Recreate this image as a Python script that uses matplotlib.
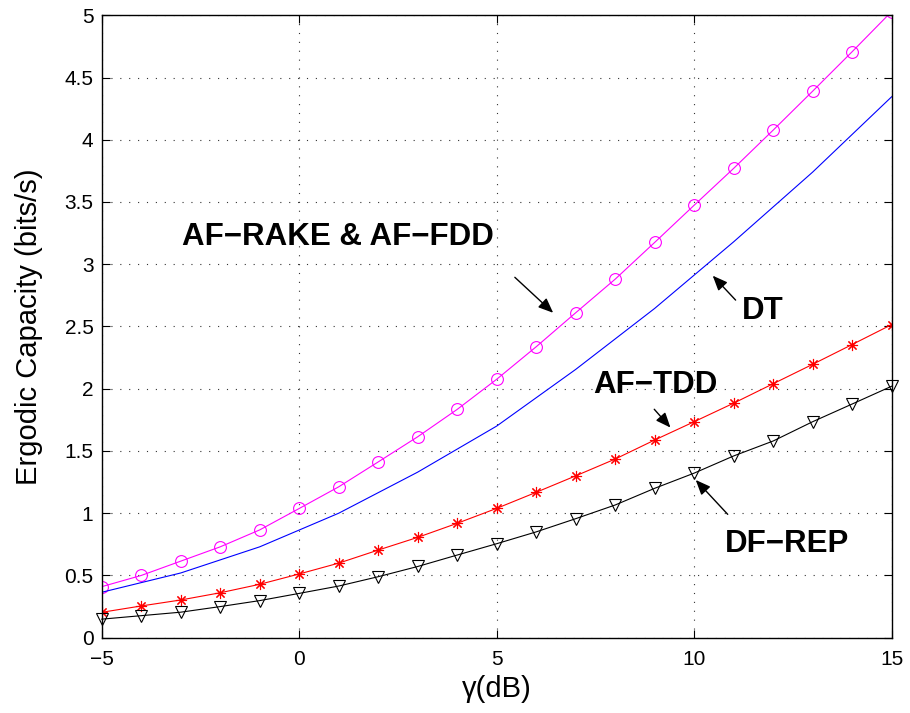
import numpy as np
import matplotlib
matplotlib.use('Agg')
import matplotlib.pyplot as plt

'''Chart data (read off the reference)'''
snr_db = np.arange(-5, 16)
af_rake = [0.41, 0.50, 0.615, 0.73, 0.866, 1.038, 1.212, 1.412, 1.614, 1.834, 2.076,
           2.337, 2.61, 2.88, 3.175, 3.474, 3.77, 4.077, 4.39, 4.707, 5.03]
af_tdd = [0.204, 0.255, 0.303, 0.361, 0.429, 0.512, 0.599, 0.704, 0.806, 0.919, 1.039,
          1.168, 1.30, 1.435, 1.588, 1.735, 1.884, 2.04, 2.196, 2.355, 2.515]
df_rep = [0.149, 0.177, 0.205, 0.25, 0.298, 0.356, 0.415, 0.49, 0.572, 0.664, 0.755,
          0.85, 0.956, 1.066, 1.20, 1.322, 1.46, 1.58, 1.735, 1.877, 2.02]

dt_db = np.arange(-5, 16, 2)
dt = [0.365, 0.52, 0.73, 1.0, 1.33, 1.70, 2.155, 2.645, 3.18, 3.74, 4.345]

xticks = [-5, 0, 5, 10, 15]
xtick_labels = ['\u22125', '0', '5', '10', '15']
yticks = np.arange(0, 5.01, 0.5)
ytick_labels = ['0', '0.5', '1', '1.5', '2', '2.5', '3', '3.5', '4', '4.5', '5']

plt.rcParams['font.family'] = ['Liberation Sans', 'DejaVu Sans']

fig = plt.figure(figsize=(9.1, 7.13), dpi=100)
ax = fig.add_axes([0.1118, 0.1056, 0.868, 0.873])

ax.plot(snr_db, af_rake, '-', color='#ff00ff', lw=0.8, marker='o', ms=8.5,
        mfc='none', mec='#ff00ff', mew=0.8)
ax.plot(dt_db, dt, '-', color='#0000ff', lw=0.8)
ax.plot(snr_db, af_tdd, '-', color='#ff0000', lw=0.8, marker=(8, 2, 0), ms=8,
        mec='#ff0000', mew=0.8)
ax.plot(snr_db, df_rep, '-', color='black', lw=0.8, marker='v', ms=8.5,
        mfc='none', mec='black', mew=0.8, clip_on=False)

ax.set_xlim(-5, 15)
ax.set_ylim(0, 5)
ax.set_xticks(xticks)
ax.set_xticklabels(xtick_labels)
ax.set_yticks(yticks)
ax.set_yticklabels(ytick_labels)
ax.tick_params(direction='in', length=6, width=0.8, top=True, right=True,
               labelsize=15, pad=6)
ax.tick_params(axis='x', pad=9)
ax.grid(True, color='#333333', linestyle=(0, (1, 7)), lw=0.8)
for s in ax.spines.values():
    s.set_linewidth(1.0)

ax.set_xlabel('\u03b3(dB)', fontsize=21, labelpad=4)
ax.set_ylabel('Ergodic Capacity (bits/s)', fontsize=21, labelpad=15)

'''Annotations'''
arrow = dict(arrowstyle='-|>,head_length=0.6,head_width=0.25', color='black',
             lw=1.0, shrinkA=0, shrinkB=0, mutation_scale=15)
ax.text(-2.975, 3.154, 'AF\u2212RAKE & AF\u2212FDD', fontsize=22.5, fontweight='bold',
        ha='left', va='baseline')
ax.annotate('', xy=(6.43, 2.61), xytext=(5.46, 2.895), arrowprops=arrow)
ax.text(11.2, 2.56, 'DT', fontsize=22.5, fontweight='bold', ha='left', va='baseline')
ax.annotate('', xy=(10.47, 2.908), xytext=(11.05, 2.712), arrowprops=arrow)
ax.text(7.445, 1.968, 'AF\u2212TDD', fontsize=22.5, fontweight='bold',
        ha='left', va='baseline')
ax.annotate('', xy=(9.40, 1.688), xytext=(8.99, 1.835), arrowprops=arrow)
ax.text(10.78, 0.686, 'DF\u2212REP', fontsize=22.5, fontweight='bold',
        ha='left', va='baseline')
ax.annotate('', xy=(10.04, 1.267), xytext=(10.85, 0.991), arrowprops=arrow)

fig.savefig('out.png', dpi=100)
